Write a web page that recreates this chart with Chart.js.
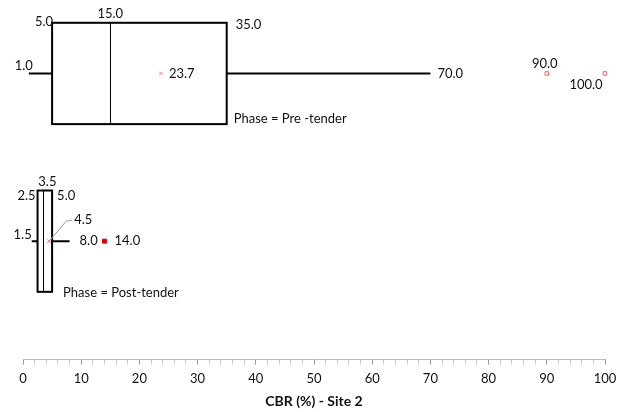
<!DOCTYPE html>
<html>
<head>
<meta charset="utf-8">
<script src="https://cdn.jsdelivr.net/npm/chart.js@4"></script>
<style>
  body { margin: 0; background: #fff; }
  #wrap { width: 624px; height: 412px; }
</style>
</head>
<body>
<div id="wrap"><canvas id="chart" width="624" height="412"></canvas></div>
<script>
// box plot values
const phases = ["Pre -tender", "Post-tender"];
const minVals = [1.0, 1.5];
const q1Vals = [5.0, 2.5];
const medianVals = [15.0, 3.5];
const q3Vals = [35.0, 5.0];
const maxVals = [70.0, 8.0];
const meanVals = [23.7, 4.5];
const outlierVals = [[90.0, 100.0], [14.0]];

// x axis
const axisMin = 0;
const axisMax = 100;
const majorStep = 10;
const minorStep = 2;
const axisTitle = "CBR (%) - Site 2";

// vertical placement of each row (hidden y scale)
const rowPos = [1, 3.45];
const boxHalf = 0.74;

const FONT = "Lato, 'Open Sans', sans-serif";

// where each number label sits relative to its mark
const labelLayout = [
  [
    { key: "min", dx: -5, dy: -8, align: "center" },
    { key: "q1", dx: 1, dy: -boxHalf, dyPx: -1, align: "right" },
    { key: "median", dx: 0, dy: -boxHalf, dyPx: -9, align: "center" },
    { key: "q3", dx: 9, dy: -boxHalf, dyPx: 2, align: "left" },
    { key: "mean", dx: 8, dy: 0, align: "left" },
    { key: "max", dx: 7, dy: 0, align: "left" },
    { key: "out0", dx: -2, dy: -10, align: "center" },
    { key: "out1", dx: -19, dy: 11, align: "center" },
    { key: "phase", dx: 7, dy: boxHalf, dyPx: -5, align: "left" }
  ],
  [
    { key: "median", dx: 4, dy: -boxHalf, dyPx: -9, align: "center" },
    { key: "q1", dx: -2, dy: -boxHalf, dyPx: 5, align: "right" },
    { key: "q3", dx: 5, dy: -boxHalf, dyPx: 5, align: "left" },
    { key: "min", dx: 0, dy: -6, align: "right" },
    { key: "mean", dx: 25, dy: -21, align: "left", leader: true },
    { key: "max", dx: 10, dy: 0, align: "left" },
    { key: "out0", dx: 10, dy: 0, align: "left" },
    { key: "phase", dx: 11, dy: boxHalf, dyPx: 1, align: "left" }
  ]
];

function valueFor(i, key) {
  if (key === "min") return minVals[i];
  if (key === "q1") return q1Vals[i];
  if (key === "median") return medianVals[i];
  if (key === "q3") return q3Vals[i];
  if (key === "max") return maxVals[i];
  if (key === "mean") return meanVals[i];
  if (key.startsWith("out")) return outlierVals[i][+key.slice(3)];
  return null;
}

const boxPlugin = {
  id: "boxes",
  beforeDatasetsDraw(chart) {
    const { ctx, scales: { x, y } } = chart;
    ctx.save();
    phases.forEach((p, i) => {
      const cy = y.getPixelForValue(rowPos[i]);
      const top = y.getPixelForValue(rowPos[i] - boxHalf);
      const bot = y.getPixelForValue(rowPos[i] + boxHalf);
      const x1 = x.getPixelForValue(q1Vals[i]);
      const x3 = x.getPixelForValue(q3Vals[i]);
      const xm = x.getPixelForValue(medianVals[i]);
      ctx.strokeStyle = "#000";
      ctx.lineWidth = 2;
      // whiskers
      ctx.beginPath();
      ctx.moveTo(x.getPixelForValue(minVals[i]), cy);
      ctx.lineTo(x1, cy);
      ctx.moveTo(x3, cy);
      ctx.lineTo(x.getPixelForValue(maxVals[i]), cy);
      ctx.stroke();
      // box
      ctx.strokeRect(x1, top, x3 - x1, bot - top);
      // median
      ctx.lineWidth = 1;
      ctx.beginPath();
      ctx.moveTo(Math.round(xm) + 0.5, top);
      ctx.lineTo(Math.round(xm) + 0.5, bot);
      ctx.stroke();
    });
    ctx.restore();
  },
  afterDatasetsDraw(chart) {
    const { ctx, scales: { x, y } } = chart;
    ctx.save();
    ctx.font = "13px " + FONT;
    ctx.fillStyle = "#111";
    ctx.textBaseline = "middle";
    phases.forEach((p, i) => {
      labelLayout[i].forEach(l => {
        let anchorVal = l.key === "phase" ? q3Vals[i] : valueFor(i, l.key);
        const text = l.key === "phase" ? "Phase = " + p : valueFor(i, l.key).toFixed(1);
        const ax = x.getPixelForValue(anchorVal);
        let ay;
        if (l.dyPx !== undefined) ay = y.getPixelForValue(rowPos[i] + l.dy) + l.dyPx;
        else ay = y.getPixelForValue(rowPos[i]) + l.dy;
        if (l.leader) {
          const cy = y.getPixelForValue(rowPos[i]);
          ctx.strokeStyle = "#999";
          ctx.lineWidth = 1;
          ctx.beginPath();
          ctx.moveTo(ax, cy);
          ctx.lineTo(ax + 17, ay + 1);
          ctx.lineTo(ax + 23, ay);
          ctx.stroke();
        }
        ctx.textAlign = l.align;
        ctx.fillText(text, ax + l.dx, ay);
      });
    });
    ctx.restore();
  }
};

const meanPoints = meanVals.map((v, i) => ({ x: v, y: rowPos[i] }));
const preOutliers = outlierVals[0].map(v => ({ x: v, y: rowPos[0] }));
const postOutliers = outlierVals[1].map(v => ({ x: v, y: rowPos[1] }));

new Chart(document.getElementById("chart"), {
  type: "scatter",
  data: {
    datasets: [
      {
        label: "Mean",
        data: meanPoints,
        pointStyle: "crossRot",
        radius: 2.5,
        borderColor: "#f08080",
        borderWidth: 1,
        clip: false
      },
      {
        label: "Outliers pre",
        data: preOutliers,
        pointStyle: "rect",
        radius: 2.5,
        backgroundColor: "#fff",
        borderColor: "#f06060",
        borderWidth: 1,
        clip: false
      },
      {
        label: "Outliers post",
        data: postOutliers,
        pointStyle: "rect",
        radius: 2.8,
        backgroundColor: "#e00000",
        borderColor: "#e00000",
        borderWidth: 1,
        clip: false
      }
    ]
  },
  options: {
    responsive: false,
    animation: false,
    layout: { padding: { left: 23, right: 19, top: 0, bottom: 0 } },
    plugins: { legend: { display: false }, tooltip: { enabled: false } },
    scales: {
      x: {
        type: "linear",
        min: axisMin,
        max: axisMax,
        border: { color: "#bbb", width: 1 },
        grid: {
          drawOnChartArea: false,
          tickLength: 5,
          tickColor: c => (c.tick && c.tick.value % majorStep === 0 ? "#999" : "#ccc")
        },
        ticks: {
          stepSize: minorStep,
          autoSkip: false,
          maxRotation: 0,
          padding: 6,
          color: "#111",
          font: { size: 13, family: FONT },
          callback: v => (v % majorStep === 0 ? String(v) : "")
        },
        title: {
          display: true,
          text: axisTitle,
          color: "#111",
          font: { size: 14, weight: "bold", family: FONT },
          padding: { top: 1, bottom: 2 }
        }
      },
      y: {
        type: "linear",
        display: false,
        reverse: true,
        min: 0,
        max: 5.18
      }
    }
  },
  plugins: [boxPlugin]
});
</script>
</body>
</html>
